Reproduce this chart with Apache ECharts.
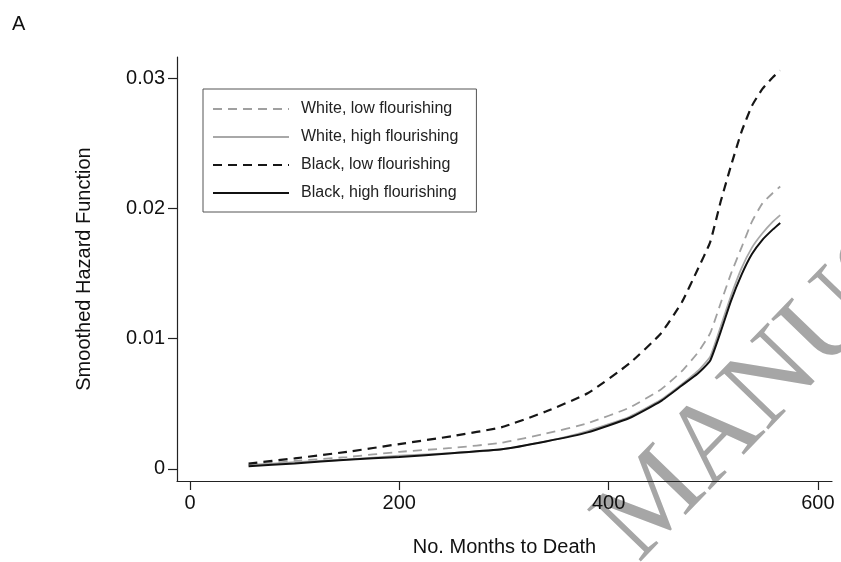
<!DOCTYPE html>
<html>
<head>
<meta charset="utf-8">
<script src="https://cdn.jsdelivr.net/npm/echarts@6/dist/echarts.min.js"></script>
<style>
html,body{margin:0;padding:0;background:#fff;}
#chart{width:841px;height:562px;}
</style>
</head>
<body>
<div id="chart"></div>
<script>
// ---- data ----
var months = [56, 100, 150, 200, 250, 298, 340, 380, 420, 450, 470, 485, 497, 507, 517, 527, 537, 547, 557, 564];
var whiteLow  = [0.0003, 0.0006, 0.0009, 0.0013, 0.0016, 0.0020, 0.0027, 0.0035, 0.0047, 0.0061, 0.0075, 0.0089, 0.0104, 0.0127, 0.0150, 0.0170, 0.0190, 0.0204, 0.0212, 0.0217];
var whiteHigh = [0.0003, 0.0005, 0.0007, 0.0010, 0.0012, 0.0015, 0.0021, 0.0029, 0.0040, 0.0053, 0.0065, 0.0075, 0.0086, 0.0109, 0.0133, 0.0154, 0.0170, 0.0181, 0.0190, 0.0195];
var blackLow  = [0.0004, 0.0008, 0.0013, 0.0019, 0.0025, 0.0032, 0.0044, 0.0058, 0.0081, 0.0104, 0.0128, 0.0153, 0.0174, 0.0205, 0.0233, 0.0259, 0.0279, 0.0292, 0.0301, 0.0306];
var blackHigh = [0.0002, 0.0004, 0.0007, 0.0009, 0.0012, 0.0015, 0.0021, 0.0028, 0.0039, 0.0052, 0.0064, 0.0073, 0.0083, 0.0105, 0.0129, 0.0149, 0.0165, 0.0176, 0.0184, 0.0189];
var seriesNames = ['White, low flourishing', 'White, high flourishing', 'Black, low flourishing', 'Black, high flourishing'];
var xTicks = [0, 200, 400, 600];
var yTicks = [0, 0.01, 0.02, 0.03];
var yTickLabels = ['0', '0.01', '0.02', '0.03'];

function pairs(xs, ys) { return xs.map(function (x, i) { return [x, ys[i]]; }); }

var FONT = 'Liberation Sans, Arial, Helvetica, sans-serif';
var chart = echarts.init(document.getElementById('chart'), null, {renderer: 'canvas'});

function lineSeries(name, ys, color, width, type, z) {
  return {
    name: name, type: 'line', data: pairs(months, ys), showSymbol: false, symbol: 'none',
    smooth: 0.15, z: z, animation: false,
    lineStyle: {color: color, width: width, type: type},
    itemStyle: {color: color}
  };
}

chart.setOption({
  backgroundColor: '#fff',
  animation: false,
  textStyle: {fontFamily: FONT},
  grid: {left: 177, right: 9, top: 57, bottom: 79, containLabel: false},
  graphic: [
    {type: 'text', left: 12, top: 14, style: {text: 'A', font: '20px ' + FONT, fill: '#111'}},
    {type: 'text', x: 617, y: 543, rotation: 0.803, z: 0, silent: true,
     style: {text: 'MANUSCRIPT', font: '114px "Liberation Serif", "DejaVu Serif", serif', fill: '#a6a6a6', verticalAlign: 'middle', align: 'left'}}
  ],
  legend: {
    orient: 'vertical', left: 203, top: 89,
    itemWidth: 76, itemHeight: 16, itemGap: 12,
    padding: [12, 18, 11, 9],
    borderColor: '#555', borderWidth: 1, backgroundColor: '#fff',
    itemStyle: {opacity: 0, borderWidth: 0},
    textStyle: {fontSize: 16, color: '#222', fontFamily: FONT, lineHeight: 16, padding: [0, 0, 0, 7]},
    data: seriesNames.map(function (n) { return {name: n}; })
  },
  xAxis: {
    type: 'value', min: -12.4, max: 613.5,
    name: 'No. Months to Death', nameLocation: 'middle', nameGap: 56,
    nameTextStyle: {fontSize: 20, color: '#111', fontFamily: FONT},
    axisLine: {show: true, onZero: false, lineStyle: {color: '#222', width: 1.2}},
    axisTick: {show: true, length: 9, customValues: xTicks, lineStyle: {color: '#222', width: 1.2}},
    axisLabel: {fontSize: 20, color: '#111', margin: 12, customValues: xTicks, fontFamily: FONT},
    splitLine: {show: false}
  },
  yAxis: {
    type: 'value', min: -0.00094, max: 0.03165,
    name: 'Smoothed Hazard Function', nameLocation: 'middle', nameGap: 83,
    nameTextStyle: {fontSize: 20, color: '#111', fontFamily: FONT},
    axisLine: {show: true, onZero: false, lineStyle: {color: '#222', width: 1.2}},
    axisTick: {show: true, length: 9, customValues: yTicks, lineStyle: {color: '#222', width: 1.2}},
    axisLabel: {fontSize: 20, color: '#111', margin: 12, customValues: yTicks, fontFamily: FONT,
      formatter: function (v) {
        for (var i = 0; i < yTicks.length; i++) { if (Math.abs(v - yTicks[i]) < 1e-9) return yTickLabels[i]; }
        return '';
      }},
    splitLine: {show: false}
  },
  series: [
    lineSeries(seriesNames[0], whiteLow, '#a0a0a0', 1.8, [9, 6], 3),
    lineSeries(seriesNames[1], whiteHigh, '#a8a8a8', 1.8, 'solid', 3),
    lineSeries(seriesNames[2], blackLow, '#161616', 2.2, [9, 6], 4),
    lineSeries(seriesNames[3], blackHigh, '#111111', 2, 'solid', 5)
  ]
});
</script>
</body>
</html>
